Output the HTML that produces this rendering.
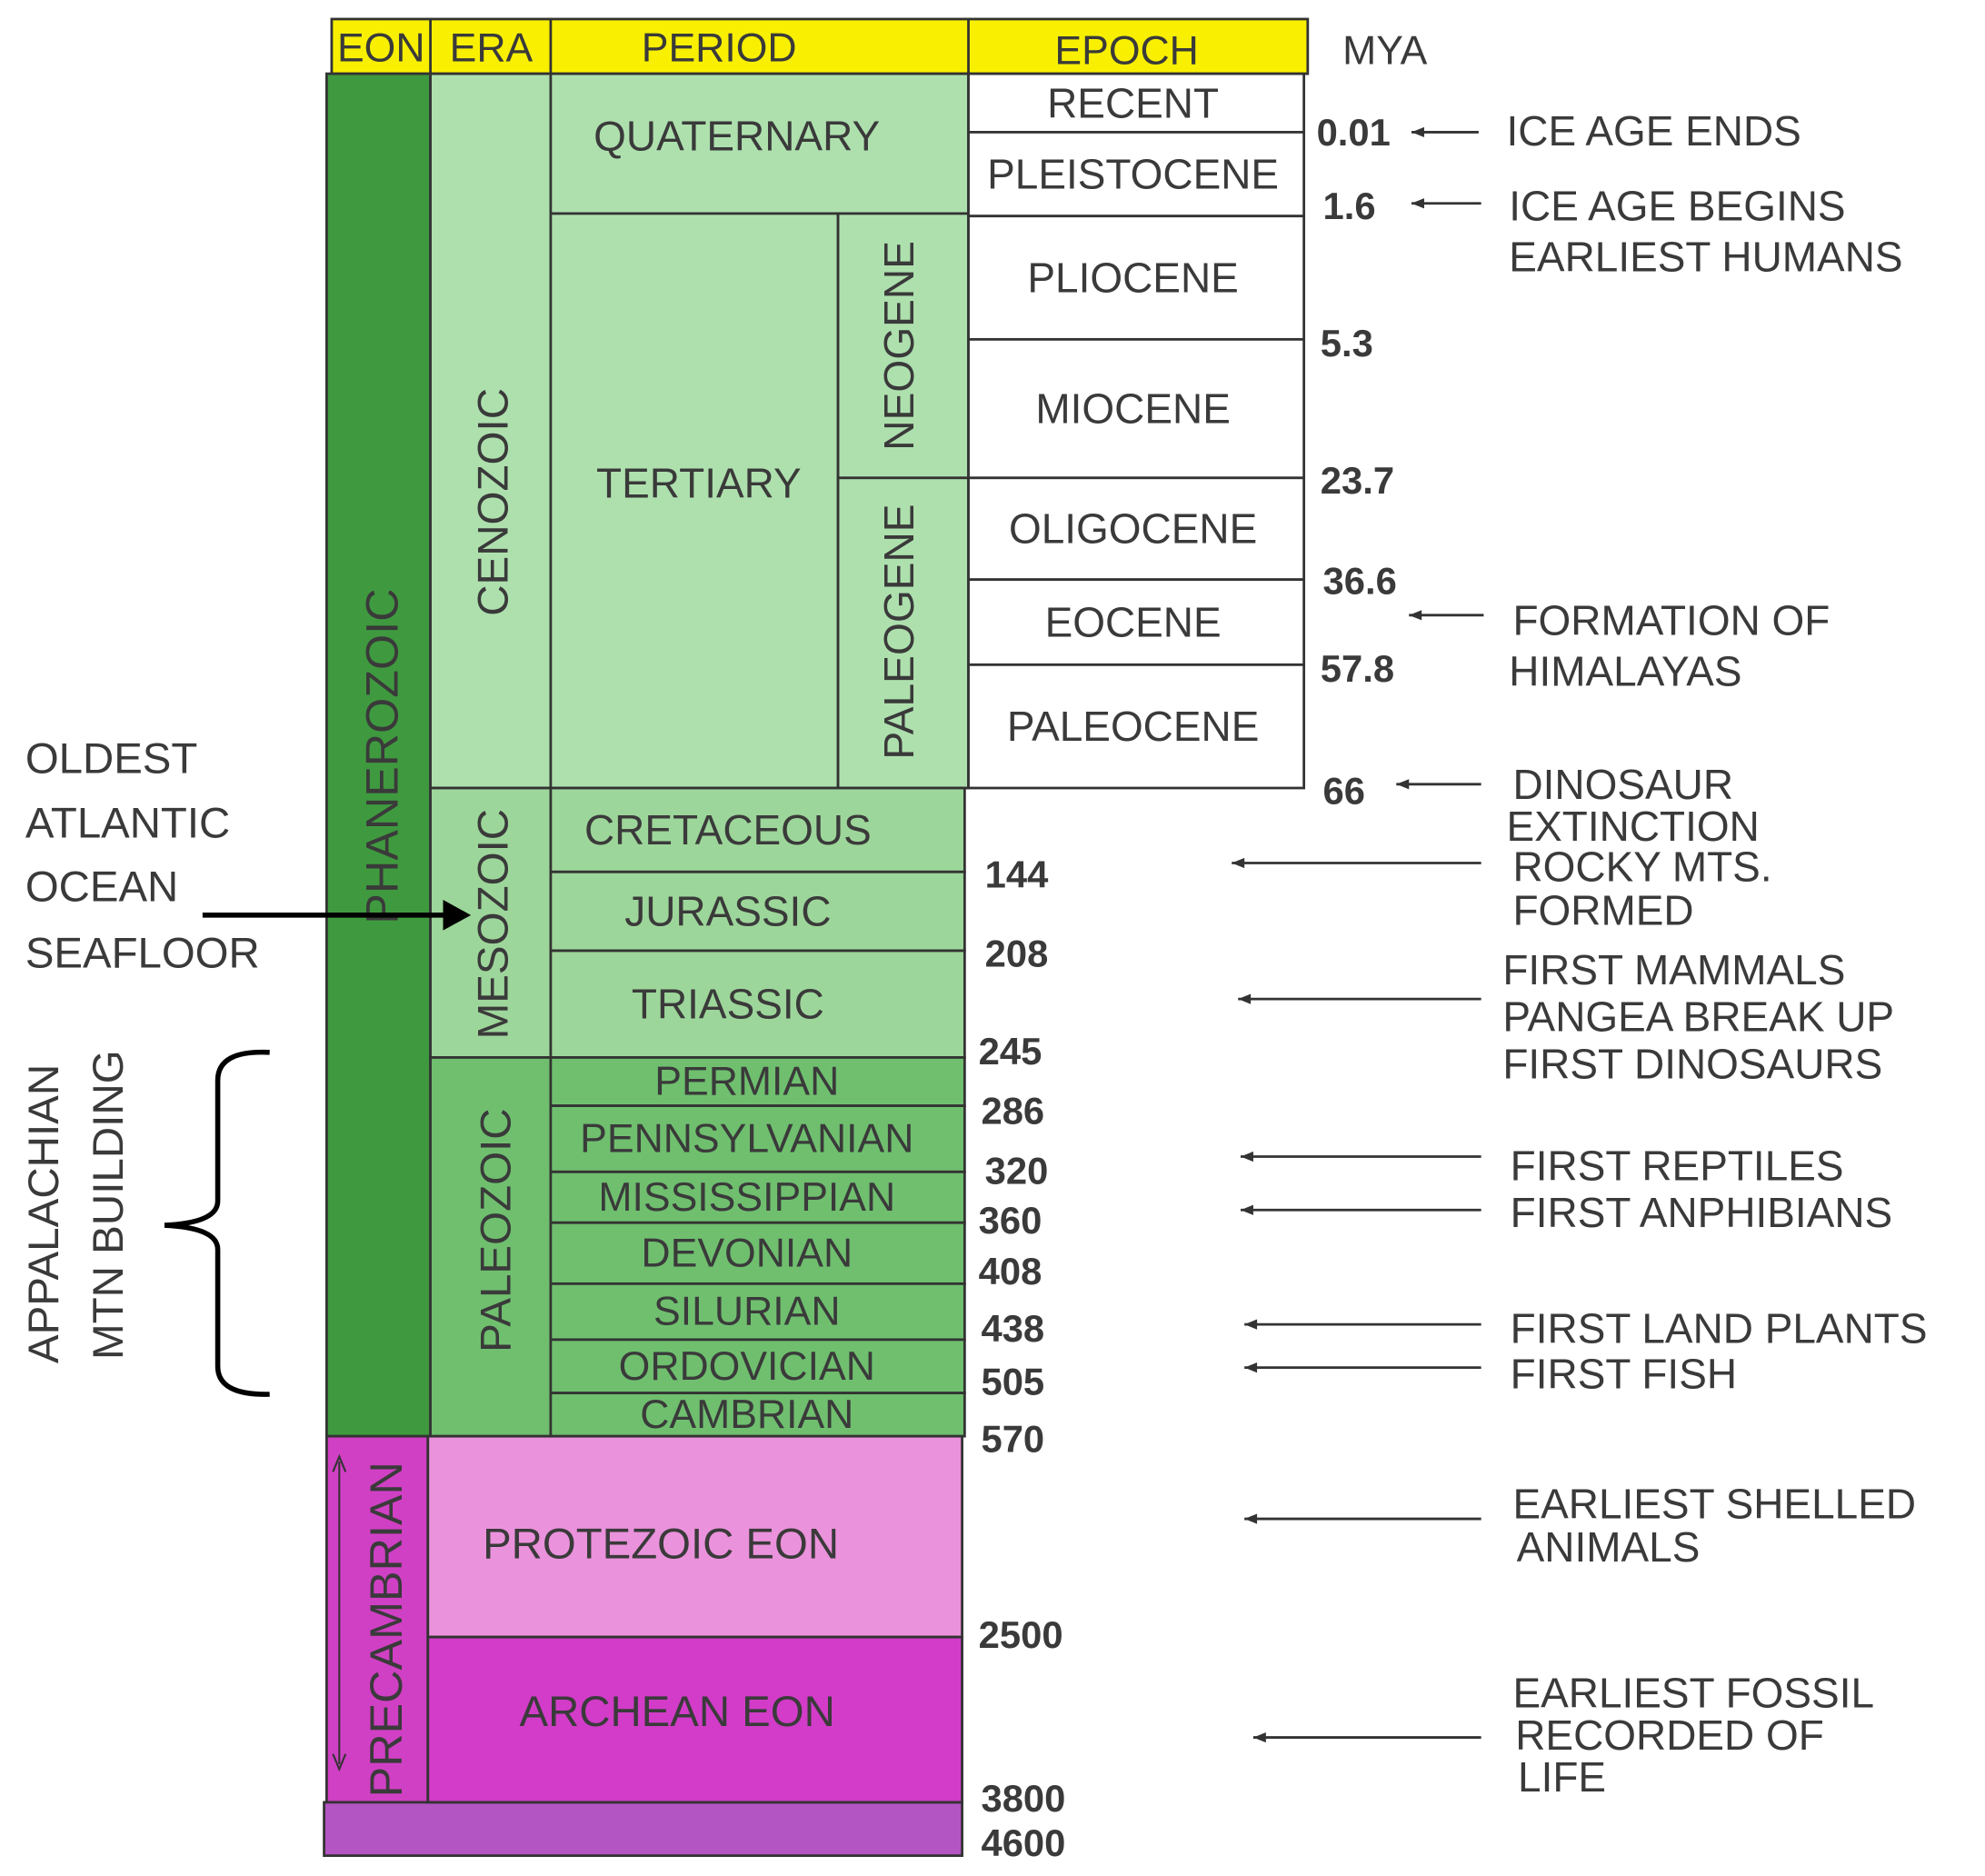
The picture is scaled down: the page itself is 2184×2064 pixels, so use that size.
<!DOCTYPE html>
<html><head><meta charset="utf-8"><style>
html,body{margin:0;padding:0;background:#fff;}
svg{display:block;}
text{font-family:"Liberation Sans",sans-serif;fill:#3a3a3a;}
</style></head><body>
<svg id="chart" width="2184" height="2064" viewBox="0 0 1568 1476" preserveAspectRatio="none" xmlns="http://www.w3.org/2000/svg">
<g id="g"></g>
</svg>
<script>
// Rows: [label, topY, bottomY]
const epochNames = ["RECENT","PLEISTOCENE","PLIOCENE","MIOCENE","OLIGOCENE","EOCENE","PALEOCENE"];
const epochBounds = [58,104,170,267,376,456,523,620];
const mesoNames = ["CRETACEOUS","JURASSIC","TRIASSIC"];
const mesoBounds = [620,686,748,832];
const paleoNames = ["PERMIAN","PENNSYLVANIAN","MISSISSIPPIAN","DEVONIAN","SILURIAN","ORDOVICIAN","CAMBRIAN"];
const paleoBounds = [832,870,922,962,1010,1054,1096,1130];
const myaLabels = ["0.01","1.6","5.3","23.7","36.6","57.8","66","144","208","245","286","320","360","408","438","505","570","2500","3800","4600"];
const myaY = [104,162,270,378,457,526,622,688,750,827,874,921,960,1000,1045,1087,1132,1286,1415,1450];
const myaX = [1040,1045,1043,1043,1045,1043,1045,778,778,773,775,778,773,773,775,775,775,773,775,775];

const g=document.getElementById('g');
const NS="http://www.w3.org/2000/svg";
function el(tag,attrs,txt){const e=document.createElementNS(NS,tag);for(const k in attrs)e.setAttribute(k,attrs[k]);if(txt!==undefined)e.textContent=txt;g.appendChild(e);return e;}
function rect(x,y,w,h,fill,name){const r=el('rect',{x:x,y:y,width:w,height:h,fill:fill,stroke:'#333','stroke-width':2});


return r;}
function txt(x,y,s,size,name,extra){const t=el('text',Object.assign({x:x,y:y,'font-size':size,'text-anchor':'middle','dominant-baseline':'central'},extra||{}),s);


return t;}

// header
rect(262,15,771,43,'#f8f000','header-bar');
[[262,340],[340,435],[435,765]].forEach(c=>el('line',{x1:c[1],y1:15,x2:c[1],y2:58,stroke:'#333','stroke-width':2}));
txt(301,38,'EON',32,'header-eon');txt(388,38,'ERA',32,'header-era');txt(568,38,'PERIOD',32,'header-period');txt(890,40,'EPOCH',32,'header-epoch');
txt(1094,40,'MYA',32,'header-mya');

// eons
rect(258,58,82,1072,'#3f9a3f','phanerozoic-eon');
rect(258,1130,80,288,'#d040c4','precambrian-eon');
rect(256,1418,504,42,'#b455c4','hadean-bar');
// cenozoic
rect(340,58,95,562,'#aee0ae','cenozoic-era');
rect(435,58,330,110,'#aee0ae','quaternary-period');
rect(435,168,227,452,'#aee0ae','tertiary-period');
rect(662,168,103,208,'#aee0ae','neogene');
rect(662,376,103,244,'#aee0ae','paleogene');
// epochs
for(let i=0;i<epochNames.length;i++){
  rect(765,epochBounds[i],265,epochBounds[i+1]-epochBounds[i],'#ffffff','epoch-'+epochNames[i].toLowerCase());
  txt(895,(epochBounds[i]+epochBounds[i+1])/2,epochNames[i],33,'epoch-label-'+epochNames[i].toLowerCase());
}
// mesozoic
rect(340,620,95,212,'#9dd69a','mesozoic-era');
for(let i=0;i<mesoNames.length;i++){
  rect(435,mesoBounds[i],327,mesoBounds[i+1]-mesoBounds[i],'#9dd69a','period-'+mesoNames[i].toLowerCase());
  txt(575,(mesoBounds[i]+mesoBounds[i+1])/2,mesoNames[i],33,'period-label-'+mesoNames[i].toLowerCase());
}
// paleozoic
rect(340,832,95,298,'#6fbf6f','paleozoic-era');
for(let i=0;i<paleoNames.length;i++){
  rect(435,paleoBounds[i],327,paleoBounds[i+1]-paleoBounds[i],'#6fbf6f','period-'+paleoNames[i].toLowerCase());
  txt(590,(paleoBounds[i]+paleoBounds[i+1])/2,paleoNames[i],32,'period-label-'+paleoNames[i].toLowerCase());
}
// precambrian
rect(338,1130,422,158,'#eb92dc','proterozoic-eon');
rect(338,1288,422,130,'#d23cc8','archean-eon');
txt(522,1215,'PROTEZOIC EON',34,'proterozoic-label');
txt(535,1347,'ARCHEAN EON',34,'archean-label');

// rotated labels
function vtxt(x,y,s,size,name){return txt(x,y,s,size,name,{transform:'rotate(-90 '+x+' '+y+')'});}
txt(582,107,'QUATERNARY',33,'period-label-quaternary');
txt(552,380,'TERTIARY',33,'period-label-tertiary');
vtxt(710,272,'NEOGENE',33,'neogene-label');
vtxt(710,497,'PALEOGENE',33,'paleogene-label');
vtxt(390,395,'CENOZOIC',34,'cenozoic-label');
vtxt(390,727,'MESOZOIC',34,'mesozoic-label');
vtxt(392,968,'PALEOZOIC',34,'paleozoic-label');
vtxt(302,595,'PHANEROZOIC',36,'phanerozoic-label');
vtxt(305,1282,'PRECAMBRIAN',36,'precambrian-label');
el('line',{x1:268,y1:1150,x2:268,y2:1388,stroke:'#333','stroke-width':1.5});
el('path',{d:'M263 1158 L268 1146 L273 1158 M263 1380 L268 1392 L273 1380',stroke:'#333',fill:'none','stroke-width':1.5});

// MYA labels
for(let i=0;i<myaLabels.length;i++){
  const t=el('text',{x:myaX[i],y:myaY[i],'font-size':30,'dominant-baseline':'central','font-weight':'bold',fill:'#333'},myaLabels[i]);
  
  
}

// annotations: [y arrow, xTip, xEnd]
const annY=[104,160,484,617,679,786,910,952,1042,1076,1195,1367];
const annX1=[1115,1115,1113,1103,973,978,980,980,983,983,983,990];
function arrow(y,x1,x2){
  const a=el('line',{x1:x1,y1:y,x2:x2,y2:y,stroke:'#333','stroke-width':2});
  
  
  el('path',{d:'M'+x1+' '+y+' l10 -4 l0 8 z',fill:'#333'});
}
const annEnd=[1168,1170,1172,1170,1170,1170,1170,1170,1170,1170,1170,1170];
for(let i=0;i<annY.length;i++) arrow(annY[i],annX1[i],annEnd[i]);
const notes=[[1190,103,'ICE AGE ENDS'],[1192,162,'ICE AGE BEGINS'],[1192,202,'EARLIEST HUMANS'],[1195,488,'FORMATION OF'],[1192,528,'HIMALAYAS'],[1195,617,'DINOSAUR'],[1190,650,'EXTINCTION'],[1195,682,'ROCKY MTS.'],[1195,716,'FORMED'],[1187,763,'FIRST MAMMALS'],[1187,800,'PANGEA  BREAK UP'],[1187,837,'FIRST DINOSAURS'],[1193,917,'FIRST REPTILES'],[1193,954,'FIRST ANPHIBIANS'],[1193,1045,'FIRST LAND PLANTS'],[1193,1081,'FIRST FISH'],[1195,1183,'EARLIEST SHELLED'],[1198,1217,'ANIMALS'],[1195,1332,'EARLIEST FOSSIL'],[1197,1365,'RECORDED OF'],[1199,1398,'LIFE']];
notes.forEach(n=>{const t=el('text',{x:n[0],y:n[1],'font-size':33,'dominant-baseline':'central'},n[2]);

});

// left annotations
const left=[[20,597,'OLDEST'],[20,648,'ATLANTIC'],[20,698,'OCEAN'],[20,750,'SEAFLOOR']];
left.forEach(n=>{const t=el('text',{x:n[0],y:n[1],'font-size':34,'dominant-baseline':'central',fill:'#000'},n[2]);

});
el('line',{x1:160,y1:720,x2:355,y2:720,stroke:'#000','stroke-width':4});
el('path',{d:'M372 720 L350 708 L350 732 Z',fill:'#000'});
const ap1=el('text',{x:35,y:955,'font-size':34,'text-anchor':'middle','dominant-baseline':'central',fill:'#000',transform:'rotate(-90 35 955)'},'APPALACHIAN');


const ap2=el('text',{x:86,y:948,'font-size':34,'text-anchor':'middle','dominant-baseline':'central',fill:'#000',transform:'rotate(-90 86 948)'},'MTN BUILDING');


const br=el('path',{d:'M213 828 Q172 826 172 850 L172 945 Q172 962 130 964 Q172 966 172 983 L172 1075 Q172 1098 213 1097',fill:'none',stroke:'#000','stroke-width':4});


</script>
</body></html>
